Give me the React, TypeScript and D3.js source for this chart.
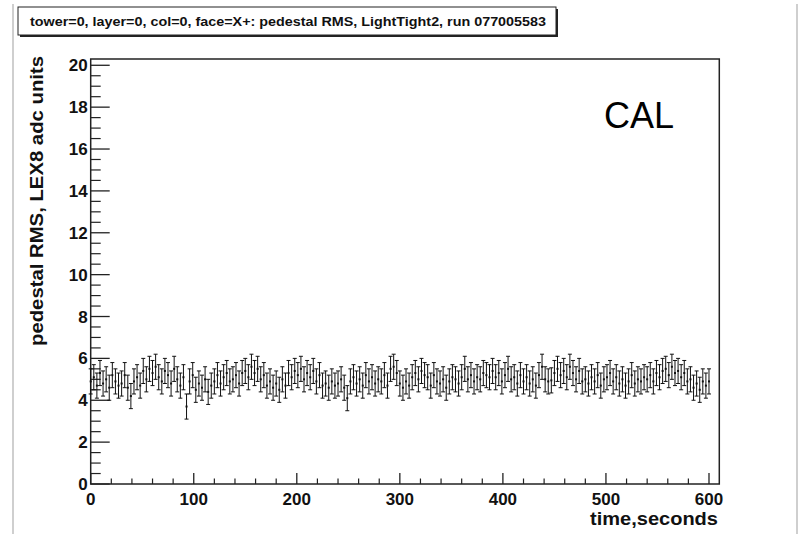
import React from "react";
import * as d3 from "d3";

const TITLE = "tower=0, layer=0, col=0, face=X+: pedestal RMS, LightTight2, run 077005583";
const Y_LABEL = "pedestal RMS, LEX8 adc units";
const X_LABEL = "time,seconds";
const TAG = "CAL";

const X_TICKS = [0, 100, 200, 300, 400, 500, 600];
const Y_TICKS = [0, 2, 4, 6, 8, 10, 12, 14, 16, 18, 20];

const STEP_SECONDS = 3;
const ERR = 0.6;

const rmsValues = [
  4.9, 5.1, 4.7, 5.3, 4.8, 5.0, 4.6, 5.2, 4.9, 4.7,
  4.8, 5.2, 4.6, 4.2, 4.9, 5.1, 4.7, 5.4, 5.0, 5.5,
  5.3, 5.6, 5.1, 4.9, 5.4, 5.2, 4.8, 5.5, 5.0, 4.7,
  5.1, 3.7, 4.9, 5.2, 4.5, 4.8, 4.6, 5.0, 4.4, 4.7,
  4.9, 5.2, 4.8, 5.1, 5.3, 4.9, 5.0, 5.2, 4.8, 5.3,
  5.4, 5.1, 5.6, 5.3, 5.5, 5.0, 5.2, 4.7, 4.9, 4.6,
  4.8, 4.5, 5.0, 4.7, 5.3, 5.1, 5.4, 5.2, 5.5, 5.0,
  5.3, 5.1, 5.4, 4.9, 5.2, 4.7, 4.8, 4.6, 4.9, 4.7,
  4.8, 5.0, 4.6, 4.1, 4.9, 5.1, 4.8, 5.0, 4.7, 5.2,
  4.9, 5.1, 4.8, 5.0, 4.9, 5.2, 4.7, 5.5, 5.6, 5.3,
  4.8, 4.6, 4.9, 4.7, 5.1, 5.3, 5.0, 5.4, 5.2, 5.1,
  4.7, 5.2, 4.9, 4.8, 5.0, 4.6, 4.9, 5.1, 5.0, 4.8,
  5.1, 5.5, 5.0, 5.2, 4.9, 5.1, 5.0, 5.3, 5.2, 5.1,
  5.4, 5.1, 5.3, 4.9, 5.2, 5.5, 5.0, 5.1, 4.8, 5.2,
  4.9, 5.1, 4.8, 5.0, 4.7, 5.2, 5.6, 5.0, 4.9, 4.95,
  5.3, 5.5, 5.2, 5.4, 5.1, 5.6, 5.3, 5.0, 5.4, 4.9,
  5.0, 4.8, 5.1, 4.9, 5.2, 4.7, 5.0, 5.1, 5.3, 4.9,
  5.1, 4.8, 5.0, 4.7, 4.9, 5.2, 4.8, 5.0, 4.9, 5.1,
  5.0, 5.2, 4.9, 5.3, 5.1, 5.4, 5.5, 5.2, 5.6, 5.3,
  5.4, 5.1, 5.3, 4.9, 5.0, 4.6, 4.8, 4.5, 4.9, 4.7,
  4.9,
];

const W = 799;
const H = 534;
const L = 90.7, R = 719.3, T = 59, B = 484;
const FONT = "'Liberation Sans', Arial, Helvetica, sans-serif";

export default function App() {
  const x = d3.scaleLinear().domain([0, 610]).range([L, R]);
  const y = d3.scaleLinear().domain([0, 20.3]).range([B, T]);

  const xMinor = d3.range(0, 610, 20).filter((v) => v % 100 !== 0);
  const yMinor = d3.range(0, 20.3, 0.5).filter((v) => v % 2 !== 0);

  const pts = rmsValues.map((v, i) => ({ t: i * STEP_SECONDS, v }));

  return (
    <svg
      width={W}
      height={H}
      style={{ position: "fixed", left: 0, top: 0, background: "#fff" }}
      fontFamily={FONT}
    >
      <rect x={0} y={0} width={W} height={H} fill="#fff" />
      {/* page borders */}
      <line x1={13} y1={4} x2={13} y2={H} stroke="#cfcfcf" strokeWidth={2} />
      <line x1={797} y1={4} x2={797} y2={H} stroke="#cfcfcf" strokeWidth={2} />

      {/* title box */}
      <rect x={20} y={9} width={538} height={28} fill="#222" />
      <rect x={18} y={7} width={538} height={28} fill="#fff" stroke="#222" strokeWidth={1} />
      <text x={30} y={26} fontSize={13.5} fontWeight="bold" fill="#111" textLength={516} lengthAdjust="spacingAndGlyphs">
        {TITLE}
      </text>

      {/* frame */}
      <rect x={L} y={T} width={R - L} height={B - T} fill="none" stroke="#222" strokeWidth={1.5} />

      {/* y ticks */}
      {Y_TICKS.map((v) => (
        <g key={"y" + v}>
          <line x1={L} x2={L + 19} y1={y(v)} y2={y(v)} stroke="#222" strokeWidth={1.3} />
          <text x={L - 3} y={y(v) + 6} textAnchor="end" fontSize={17} fontWeight="bold" fill="#111">
            {v}
          </text>
        </g>
      ))}
      {yMinor.map((v) => (
        <line key={"ym" + v} x1={L} x2={L + 10} y1={y(v)} y2={y(v)} stroke="#222" strokeWidth={1.2} />
      ))}

      {/* x ticks */}
      {X_TICKS.map((v) => (
        <g key={"x" + v}>
          <line x1={x(v)} x2={x(v)} y1={B} y2={B - 11} stroke="#222" strokeWidth={1.3} />
          <text x={x(v)} y={505} textAnchor="middle" fontSize={17} fontWeight="bold" fill="#111">
            {v}
          </text>
        </g>
      ))}
      {xMinor.map((v) => (
        <line key={"xm" + v} x1={x(v)} x2={x(v)} y1={B} y2={B - 5.5} stroke="#222" strokeWidth={1.2} />
      ))}

      {/* data with error bars */}
      {pts.map((p, i) => {
        const cx = x(p.t);
        const y0 = y(p.v - ERR);
        const y1 = y(p.v + ERR);
        return (
          <g key={"p" + i} stroke="#111" strokeWidth={1}>
            <line x1={cx} x2={cx} y1={y0} y2={y1} />
            <line x1={cx - 2} x2={cx + 2} y1={y0} y2={y0} />
            <line x1={cx - 2} x2={cx + 2} y1={y1} y2={y1} />
            <rect x={cx - 1} y={y(p.v) - 1} width={2} height={2} fill="#111" stroke="none" />
          </g>
        );
      })}

      {/* labels */}
      <text x={718} y={525} textAnchor="end" fontSize={19} fontWeight="bold" fill="#111" textLength={128} lengthAdjust="spacingAndGlyphs">
        {X_LABEL}
      </text>
      <text
        transform={`translate(43, 201) rotate(-90)`}
        textAnchor="middle"
        fontSize={19}
        fontWeight="bold"
        fill="#111"
        textLength={290}
        lengthAdjust="spacingAndGlyphs"
      >
        {Y_LABEL}
      </text>
      <text x={604} y={128} fontSize={36} fill="#000">
        {TAG}
      </text>
    </svg>
  );
}
